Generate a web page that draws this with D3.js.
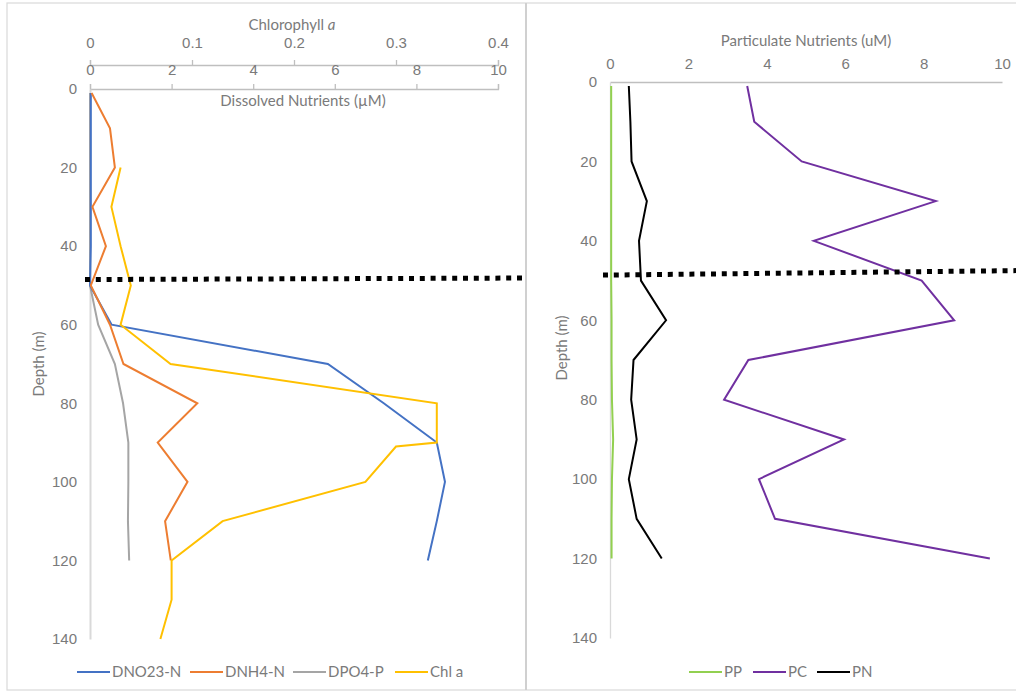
<!DOCTYPE html>
<html>
<head>
<meta charset="utf-8">
<script src="https://cdn.jsdelivr.net/npm/d3@7"></script>
<style>
  html, body { margin: 0; padding: 0; background: #fff; }
  svg { display: block; font-family: Lato, "Open Sans", sans-serif; }
  .tick text { fill: #7a7a7a; font-size: 15px; }
  .lbl { fill: #7a7a7a; font-size: 15px; }
</style>
</head>
<body>
<svg id="chart" width="1016" height="693"></svg>
<script>
// Sampling depths (m)
const depths = [1, 10, 20, 30, 40, 50, 60, 70, 80, 90, 100, 110, 120];
const chlDepths = [20, 30, 40, 50, 60, 70, 80, 90, 91, 100, 110, 120, 130, 140];

// Dissolved nutrients (µM)
const dno23 = [0.02, 0.02, 0.02, 0.02, 0.02, 0.0, 0.53, 5.83, 7.2, 8.5, 8.7, 8.5, 8.28];
const dnh4 = [0.04, 0.49, 0.61, 0.06, 0.39, 0.02, 0.49, 0.82, 2.63, 1.66, 2.39, 1.84, 1.98];
const dpo4 = [0.0, 0.0, 0.0, 0.0, 0.0, 0.0, 0.2, 0.61, 0.81, 0.94, 0.94, 0.93, 0.96];
// Chlorophyll a
const chla = [0.03, 0.021, 0.03, 0.04, 0.03, 0.079, 0.34, 0.34, 0.30, 0.27, 0.13, 0.08, 0.08, 0.069];

// Particulate nutrients (uM)
const pp = [0.03, 0.03, 0.03, 0.03, 0.03, 0.03, 0.04, 0.04, 0.05, 0.08, 0.05, 0.04, 0.04];
const pc = [3.5, 3.68, 4.89, 8.31, 5.2, 7.95, 8.78, 3.53, 2.91, 5.97, 3.8, 4.21, 9.69];
const pn = [0.48, 0.52, 0.55, 0.94, 0.74, 0.79, 1.43, 0.6, 0.54, 0.68, 0.48, 0.68, 1.32];

const depthTicks = [0, 20, 40, 60, 80, 100, 120, 140];
const nutrientTicks = [0, 2, 4, 6, 8, 10];
const chlTicks = [0, 0.1, 0.2, 0.3, 0.4];
const mixedLayerDepth = 48.5;

const svg = d3.select("#chart");

// panel frames
svg.append("rect").attr("x", 7).attr("y", 3).attr("width", 1020).attr("height", 687)
  .attr("fill", "none").attr("stroke", "#d9d9d9").attr("stroke-width", 1.2);
svg.append("line").attr("x1", 526).attr("x2", 526).attr("y1", 3).attr("y2", 690)
  .attr("stroke", "#d0d0d0").attr("stroke-width", 2);

function styleAxis(g, showTicks) {
  g.select(".domain").attr("stroke", "#bfbfbf").attr("stroke-width", 1.3);
  g.selectAll(".tick line").attr("stroke", "#bfbfbf").attr("stroke-width", 1.3)
    .attr("display", showTicks ? null : "none");
}

// ---------- Left panel: dissolved nutrients + chlorophyll ----------
const xL = d3.scaleLinear().domain([0, 10]).range([90, 498]);
const xChl = d3.scaleLinear().domain([0, 0.4]).range([90, 498]);
const yL = d3.scaleLinear().domain([0, 140]).range([89, 639]);

const gChl = svg.append("g").attr("transform", "translate(0,65)")
  .call(d3.axisTop(xChl).tickValues(chlTicks).tickSize(5).tickSizeOuter(5).tickPadding(12)
    .tickFormat(d => d === 0 ? "0" : d3.format(".1f")(d)));
styleAxis(gChl, true);

const gDis = svg.append("g").attr("transform", "translate(0,89)")
  .call(d3.axisTop(xL).tickValues(nutrientTicks).tickSize(5).tickSizeOuter(5).tickPadding(9));
styleAxis(gDis, true);

const gYL = svg.append("g").attr("transform", "translate(90,0)")
  .call(d3.axisLeft(yL).tickValues(depthTicks).tickSize(0).tickPadding(13));
gYL.select(".domain").attr("stroke", "#d9d9d9").attr("stroke-width", 2);

svg.append("text").attr("class", "lbl").attr("x", 292).attr("y", 30).attr("text-anchor", "middle")
  .html('Chlorophyll <tspan font-style="italic">a</tspan>');
svg.append("text").attr("class", "lbl").attr("x", 303).attr("y", 106).attr("text-anchor", "middle")
  .text("Dissolved Nutrients (µM)");
svg.append("text").attr("class", "lbl").attr("transform", "translate(44,364) rotate(-90)")
  .attr("text-anchor", "middle").text("Depth (m)");

function drawLine(xs, ys, vals, dps, color) {
  const line = d3.line().x((d, i) => xs(d)).y((d, i) => ys(dps[i]));
  svg.append("path").datum(vals).attr("d", line).attr("fill", "none")
    .attr("stroke", color).attr("stroke-width", 2).attr("stroke-linejoin", "miter");
}

drawLine(xL, yL, dpo4, depths, "#a5a5a5");
drawLine(xL, yL, dno23, depths, "#4472c4");
drawLine(xL, yL, dnh4, depths, "#ed7d31");
drawLine(xChl, yL, chla, chlDepths, "#ffc000");

// ---------- Right panel: particulate nutrients ----------
const xR = d3.scaleLinear().domain([0, 10]).range([610, 1002]);
const yR = d3.scaleLinear().domain([0, 140]).range([82, 638]);

const gXR = svg.append("g").attr("transform", "translate(0,82)")
  .call(d3.axisTop(xR).tickValues(nutrientTicks).tickSize(0).tickPadding(13));
styleAxis(gXR, false);

const gYR = svg.append("g").attr("transform", "translate(610,0)")
  .call(d3.axisLeft(yR).tickValues(depthTicks).tickSize(0).tickPadding(13));
gYR.select(".domain").attr("stroke", "#d9d9d9").attr("stroke-width", 1.3);

svg.append("text").attr("class", "lbl").attr("x", 806).attr("y", 46).attr("text-anchor", "middle")
  .text("Particulate Nutrients (uM)");
svg.append("text").attr("class", "lbl").attr("transform", "translate(567,348) rotate(-90)")
  .attr("text-anchor", "middle").text("Depth (m)");

drawLine(xR, yR, pp, depths, "#92d050");
drawLine(xR, yR, pc, depths, "#7030a0");
drawLine(xR, yR, pn, depths, "#000000");

// ---------- Mixed-layer markers ----------
svg.append("line").attr("x1", 85).attr("x2", 526)
  .attr("y1", yL(mixedLayerDepth)).attr("y2", yL(mixedLayerDepth) - 1.5)
  .attr("stroke", "#000").attr("stroke-width", 5).attr("stroke-dasharray", "5,5.8");
svg.append("line").attr("x1", 603).attr("x2", 1016)
  .attr("y1", yR(mixedLayerDepth) + 0.5).attr("y2", yR(mixedLayerDepth) - 4)
  .attr("stroke", "#000").attr("stroke-width", 5).attr("stroke-dasharray", "5,5.8");

// ---------- Legends ----------
function legend(items, y) {
  items.forEach(it => {
    svg.append("line").attr("x1", it.x).attr("x2", it.x + 33).attr("y1", y).attr("y2", y)
      .attr("stroke", it.color).attr("stroke-width", 2);
    svg.append("text").attr("class", "lbl").attr("x", it.x + 35).attr("y", y + 5).text(it.name);
  });
}
legend([
  { name: "DNO23-N", color: "#4472c4", x: 77 },
  { name: "DNH4-N", color: "#ed7d31", x: 190 },
  { name: "DPO4-P", color: "#a5a5a5", x: 293 },
  { name: "Chl a", color: "#ffc000", x: 395 }
], 672);
legend([
  { name: "PP", color: "#92d050", x: 689 },
  { name: "PC", color: "#7030a0", x: 753 },
  { name: "PN", color: "#000000", x: 817 }
], 672);
</script>
</body>
</html>
